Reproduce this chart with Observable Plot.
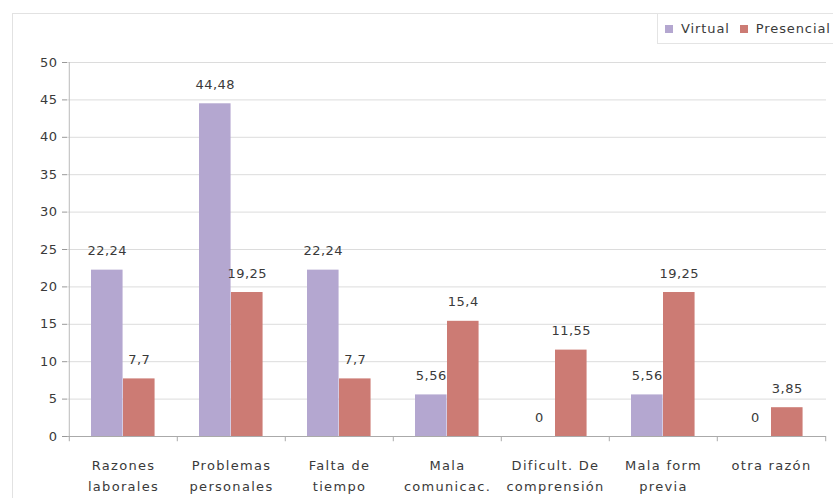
<!DOCTYPE html>
<html>
<head>
<meta charset="utf-8">
<script src="https://cdn.jsdelivr.net/npm/d3@7"></script>
<script src="https://cdn.jsdelivr.net/npm/@observablehq/plot@0.6"></script>
<style>
  body { margin: 0; background: #fff; font-family: "DejaVu Sans", sans-serif; }
  #wrap { position: relative; width: 833px; height: 498px; overflow: hidden; }
  #frame { position: absolute; left: 12px; top: 13px; width: 840px; height: 500px; border: 1px solid #e2e2e2; box-sizing: border-box; }
  #legend { position: absolute; left: 657px; top: 13px; width: 200px; height: 31px; border: 1px solid #e4e4e4; border-right: none; box-sizing: border-box; font-size: 13px; letter-spacing: 0.9px; color: #3a3a3a; display: flex; align-items: center; gap: 10px; padding-left: 7px; white-space: nowrap; }
  .sw { display: inline-block; width: 8px; height: 8px; margin-right: 8px; vertical-align: 0px; }
  #chart { position: absolute; left: 0; top: 0; }
  #chart text { letter-spacing: 0.5px; }
  #chart g.cat text { letter-spacing: 1.3px; }
</style>
</head>
<body>
<div id="wrap">
  <div id="frame"></div>
  <div id="chart"></div>
  <div id="legend"><span><span class="sw" style="background:#b4a7d0"></span>Virtual</span><span><span class="sw" style="background:#cc7b74"></span>Presencial</span></div>
</div>
<script>
const categories = ["Razones laborales", "Problemas personales", "Falta de tiempo", "Mala comunicac.", "Dificult. De comprensión", "Mala form previa", "otra razón"];
const catLabels = ["Razones\nlaborales", "Problemas\npersonales", "Falta de\ntiempo", "Mala\ncomunicac.", "Dificult. De\ncomprensión", "Mala form\nprevia", "otra razón"];
const virtual = [22.24, 44.48, 22.24, 5.56, 0, 5.56, 0];
const presencial = [7.7, 19.25, 7.7, 15.4, 11.55, 19.25, 3.85];
const yTicks = [0, 5, 10, 15, 20, 25, 30, 35, 40, 45, 50];

const vData = categories.map((c, i) => ({cat: c, value: virtual[i]}));
const pData = categories.map((c, i) => ({cat: c, value: presencial[i]}));
const fmt = v => String(v).replace(".", ",");
const labelOf = Object.fromEntries(categories.map((c, i) => [c, catLabels[i]]));

const W = 833, H = 498, ml = 67, mr = 7;
const band = (W - ml - mr) / categories.length;
const txt = "#3a3a3a";
const fs = 13;

const chart = Plot.plot({
  width: W, height: H,
  marginLeft: ml, marginRight: mr, marginTop: 62, marginBottom: 62,
  style: {fontFamily: "DejaVu Sans, sans-serif", fontSize: fs + "px", color: txt, background: "transparent"},
  x: {domain: categories, padding: 0, axis: null},
  y: {domain: [0, 50], axis: null},
  marks: [
    Plot.ruleY(yTicks.filter(d => d > 0), {stroke: "#dcdcdc", strokeWidth: 1}),
    Plot.axisY({ticks: yTicks, tickSize: 5, tickPadding: 5, stroke: "#999", fill: txt, fontSize: fs, label: null}),
    Plot.barY(vData, {x: "cat", y: "value", fill: "#b4a7d0", insetLeft: 22, insetRight: band - 54}),
    Plot.barY(pData, {x: "cat", y: "value", fill: "#cc7b74", insetLeft: 54, insetRight: band - 54 - 32}),
    Plot.ruleY([0], {stroke: "#aaa"}),
    Plot.ruleX(categories, {x: d => d, y1: 0, y2: -0.7, dx: -band / 2, stroke: "#aaa"}),
    Plot.ruleX([categories[categories.length - 1]], {x: d => d, y1: 0, y2: -0.7, dx: band / 2, stroke: "#aaa"}),
    Plot.ruleX([categories[0]], {x: d => d, y1: 0, y2: 50, dx: -band / 2, stroke: "#bbb"}),
    Plot.text(vData, {x: "cat", y: "value", text: d => fmt(d.value), dx: 22 + 16 - band / 2, dy: -19, lineAnchor: "middle", fill: txt, fontSize: fs}),
    Plot.text(pData, {x: "cat", y: "value", text: d => fmt(d.value), dx: 54 + 16 - band / 2, dy: -19, lineAnchor: "middle", fill: txt, fontSize: fs}),
    Plot.text(categories, {x: d => d, y: 0, text: d => labelOf[d], dy: 18, lineAnchor: "top", lineHeight: 1.65, fill: txt, fontSize: fs, className: "cat"})
  ]
});
document.getElementById("chart").appendChild(chart);
</script>
</body>
</html>
